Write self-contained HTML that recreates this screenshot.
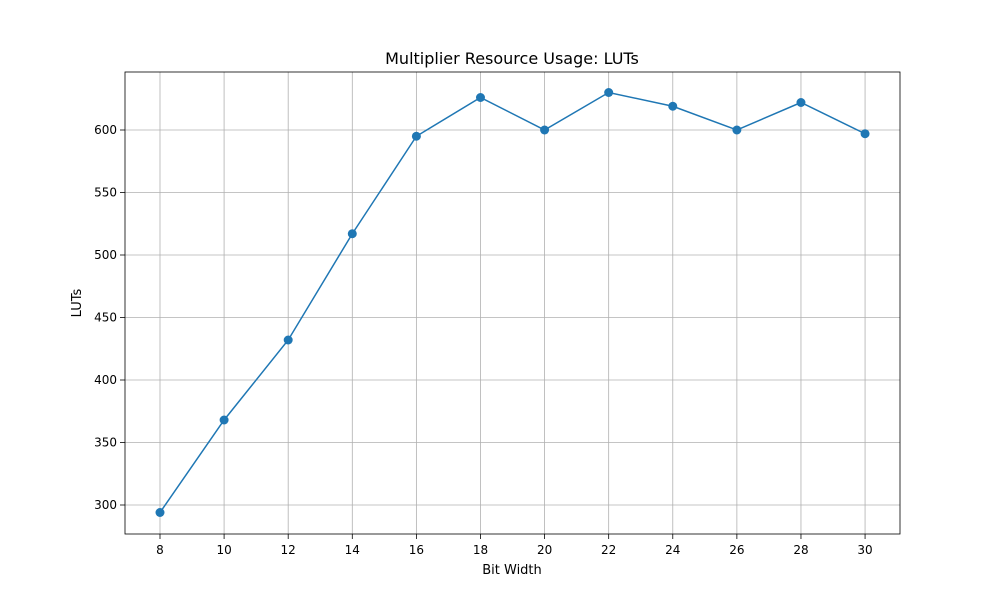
<!DOCTYPE html>
<html><head><meta charset="utf-8"><style>
html,body{margin:0;padding:0;background:#fff;}
svg{display:block;font-family:"DejaVu Sans","Liberation Sans",sans-serif;}
</style></head><body>
<svg id="chart" width="1000" height="600">
<rect width="1000" height="600" fill="#fff"/>
<g id="grid"></g>
<g id="axes"></g>
<g id="series"></g>
<text x="512" y="64" text-anchor="middle" font-size="16">Multiplier Resource Usage: LUTs</text>
<text x="512" y="574" text-anchor="middle" font-size="13">Bit Width</text>
<text transform="translate(81,303) rotate(-90)" text-anchor="middle" font-size="13">LUTs</text>
</svg>
<script>
const categories = [8,10,12,14,16,18,20,22,24,26,28,30];
const lutValues = [294,368,432,517,595,626,600,630,619,600,622,597];
const yTicks = [300,350,400,450,500,550,600];

const L=125,R=900,T=72,B=534;
const xMin=6.908,xMax=31.09,yMin=276.8,yMax=646.4;
const xs=v=>L+(v-xMin)/(xMax-xMin)*(R-L);
const ys=v=>B-(v-yMin)/(yMax-yMin)*(B-T);
const NS='http://www.w3.org/2000/svg';
function mk(tag,attrs,parent){const e=document.createElementNS(NS,tag);for(const k in attrs)e.setAttribute(k,attrs[k]);parent.appendChild(e);return e;}
const grid=document.getElementById('grid'),axes=document.getElementById('axes'),series=document.getElementById('series');
categories.forEach(c=>{
  const x=xs(c);
  const g=mk('line',{x1:x,x2:x,y1:T,y2:B,stroke:'#b0b0b0','stroke-width':0.8},grid);
  
  
  mk('line',{x1:x,x2:x,y1:B,y2:B+5,stroke:'#000','stroke-width':0.8},axes);
  const t=mk('text',{x:x,y:B+20,'text-anchor':'middle','font-size':12},axes);
  t.textContent=c;
  
  
});
yTicks.forEach(v=>{
  const y=ys(v);
  const g=mk('line',{x1:L,x2:R,y1:y,y2:y,stroke:'#b0b0b0','stroke-width':0.8},grid);
  
  
  mk('line',{x1:L-5,x2:L,y1:y,y2:y,stroke:'#000','stroke-width':0.8},axes);
  const t=mk('text',{x:L-8,y:y+4,'text-anchor':'end','font-size':12},axes);
  t.textContent=v;
  
  
});
const frame=mk('rect',{x:L,y:T,width:R-L,height:B-T,fill:'none',stroke:'#000','stroke-width':0.8},axes);


const pts=categories.map((c,i)=>xs(c)+','+ys(lutValues[i])).join(' ');
const line=mk('polyline',{points:pts,fill:'none',stroke:'#1f77b4','stroke-width':1.5},series);


categories.forEach((c,i)=>{
  const p=mk('circle',{cx:xs(c),cy:ys(lutValues[i]),r:4.5,fill:'#1f77b4'},series);
  
  
});
</script>
</body></html>
